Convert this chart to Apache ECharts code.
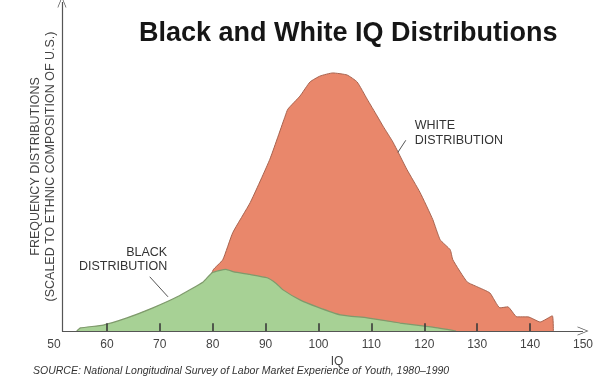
<!DOCTYPE html>
<html>
<head>
<meta charset="utf-8">
<script src="https://cdn.jsdelivr.net/npm/echarts@6/dist/echarts.min.js"></script>
<style>
html,body{margin:0;padding:0;background:#fff;}
#c{width:596px;height:381px;}
</style>
</head>
<body>
<div id="c"></div>
<script>
// ---- data ----
const xTicks = [50, 60, 70, 80, 90, 100, 110, 120, 130, 140, 150];
const innerTicks = [60, 70, 80, 90, 100, 110, 120, 130, 140];

const whiteIQ = [76, 78.5, 80.1, 81.9, 83.8, 87.1, 90.8, 93.7, 94.2, 96.5, 98.4, 100.3, 102.7, 105.4, 107.3, 109.2, 111.1, 112.2, 114.1, 116.7, 119.2, 121.6, 123.0, 124.9, 125.4, 128.1, 130.0, 132.4, 134.3, 135.8, 137.5, 139.6, 141.9, 144.2, 144.4];
const whiteFreq = [0, 15, 23.8, 27.7, 38.3, 50, 66.8, 83.6, 86.3, 91.4, 96.9, 99.2, 100.4, 99.6, 96.9, 90.2, 83.6, 79.7, 73.4, 62.9, 53.9, 43.4, 35.5, 31.6, 27.7, 19.1, 17.2, 14.8, 9.0, 9.4, 5.5, 5.5, 3.5, 5.9, 0];

const blackIQ = [54.3, 55, 59.3, 63.8, 68.7, 73.3, 78.2, 79.9, 82.5, 84, 87, 90.3, 92, 93.3, 96.5, 99.7, 104.1, 109.2, 115.4, 121.6, 126];
const blackFreq = [0, 1.2, 2.3, 5.1, 9.0, 13.3, 19.1, 22.7, 24.0, 23.0, 22.0, 20.7, 18.5, 16.0, 12.1, 9.4, 6.3, 5.1, 3.1, 1.5, 0];

const titleText = 'Black and White IQ Distributions';
const yTitle = 'FREQUENCY DISTRIBUTIONS\n(SCALED TO ETHNIC COMPOSITION OF U.S.)';
const xTitle = 'IQ';
const sourceText = 'SOURCE: National Longitudinal Survey of Labor Market Experience of Youth, 1980\u20131990';
const blackLabel = 'BLACK\nDISTRIBUTION';
const whiteLabel = 'WHITE\nDISTRIBUTION';

const axisX = 51.5;   // where the vertical axis is drawn
const xMax = 150;
const yMax = 128;
const tickLen = 3;    // tick height in y units

const zip = (a, b) => a.map((v, i) => [v, b[i]]);

const chart = echarts.init(document.getElementById('c'), null, {renderer: 'canvas'});
const FONT = 'Liberation Sans, Arial, Helvetica, sans-serif';
const ARROW = 'path://M0,0 L6,12 L5,12 L0,2 L-5,12 L-6,12 Z';
const axisLineStyle = {color: '#555', width: 1.2, type: 'solid'};

const tickLines = innerTicks.map(t => [
  {coord: [t, 0], symbol: 'none', lineStyle: {color: '#3a3a3a', width: 1.6, type: 'solid'}},
  {coord: [t, tickLen], symbol: 'none'}
]);

chart.setOption({
  backgroundColor: '#ffffff',
  animation: false,
  title: {
    text: titleText,
    left: 134, top: 15,
    textStyle: {fontFamily: FONT, fontSize: 27, fontWeight: 'bold', color: '#161616'}
  },
  grid: {left: 54, right: 11, top: 2, bottom: 50},
  xAxis: {
    type: 'value', min: 50, max: xMax,
    axisLine: {show: false},
    axisTick: {show: false},
    axisLabel: {customValues: xTicks, color: '#444', fontSize: 12, fontFamily: FONT, margin: 8},
    splitLine: {show: false},
    name: xTitle, nameLocation: 'middle', nameGap: 19,
    nameTextStyle: {color: '#444', fontSize: 12, fontFamily: FONT, padding: [0, 0, 0, 37]}
  },
  yAxis: {
    type: 'value', min: 0, max: yMax,
    axisLine: {show: false}, axisTick: {show: false}, axisLabel: {show: false}, splitLine: {show: false},
    name: yTitle, nameLocation: 'middle', nameRotate: 90, nameGap: -4,
    nameTextStyle: {color: '#444', fontSize: 12.5, fontFamily: FONT, lineHeight: 15, align: 'center'}
  },
  series: [
    {
      name: 'White', type: 'line', data: zip(whiteIQ, whiteFreq),
      showSymbol: false, smooth: 0.15, clip: false, z: 2,
      lineStyle: {color: '#a86450', width: 1},
      areaStyle: {color: '#e9876b', opacity: 1},
      markPoint: {
        symbol: 'circle', symbolSize: 0,
        data: [{
          coord: [118.2, 77.1],
          label: {show: true, position: 'right', distance: 0, formatter: whiteLabel, align: 'left',
                  color: '#333', fontSize: 12.5, fontFamily: FONT, lineHeight: 15}
        }]
      },
      markLine: {
        silent: true, symbol: ['none', 'none'], animation: false,
        lineStyle: {color: '#555', width: 1, type: 'solid'}, label: {show: false},
        data: [[{coord: [115.0, 69.5]}, {coord: [116.5, 74.2]}]]
      }
    },
    {
      name: 'Black', type: 'line', data: zip(blackIQ, blackFreq),
      showSymbol: false, smooth: 0.15, clip: false, z: 3,
      lineStyle: {color: '#7f9a6c', width: 1.2},
      areaStyle: {color: '#a7d195', opacity: 1},
      markPoint: {
        symbol: 'circle', symbolSize: 0,
        data: [{
          coord: [71.4, 27.7],
          label: {show: true, position: 'left', distance: 0, formatter: blackLabel, align: 'right',
                  color: '#333', fontSize: 12.5, fontFamily: FONT, lineHeight: 14}
        }]
      },
      markLine: {
        silent: true, animation: false, label: {show: false}, symbol: ['none', 'none'],
        lineStyle: {color: '#555', width: 1, type: 'solid'},
        data: [[{coord: [68.1, 21.1]}, {coord: [71.55, 13.3]}]]
      }
    },
    {
      // carrier for the axis lines (with arrow heads) and ticks, drawn above the areas
      name: 'axes', type: 'line', data: [], clip: false, z: 12, silent: true,
      markLine: {
        silent: true, animation: false, label: {show: false},
        symbol: ['none', ARROW], symbolSize: [9, 11],
        lineStyle: axisLineStyle,
        data: [
          [{coord: [axisX, 0]}, {coord: [axisX, yMax]}],
          [{coord: [axisX, 0]}, {coord: [xMax, 0]}]
        ].concat(tickLines)
      }
    }
  ],
  graphic: [{
    type: 'text', left: 33, top: 366, z: 20,
    style: {text: sourceText, font: 'italic 10.5px ' + FONT, fill: '#333'}
  }]
});
</script>
</body>
</html>
